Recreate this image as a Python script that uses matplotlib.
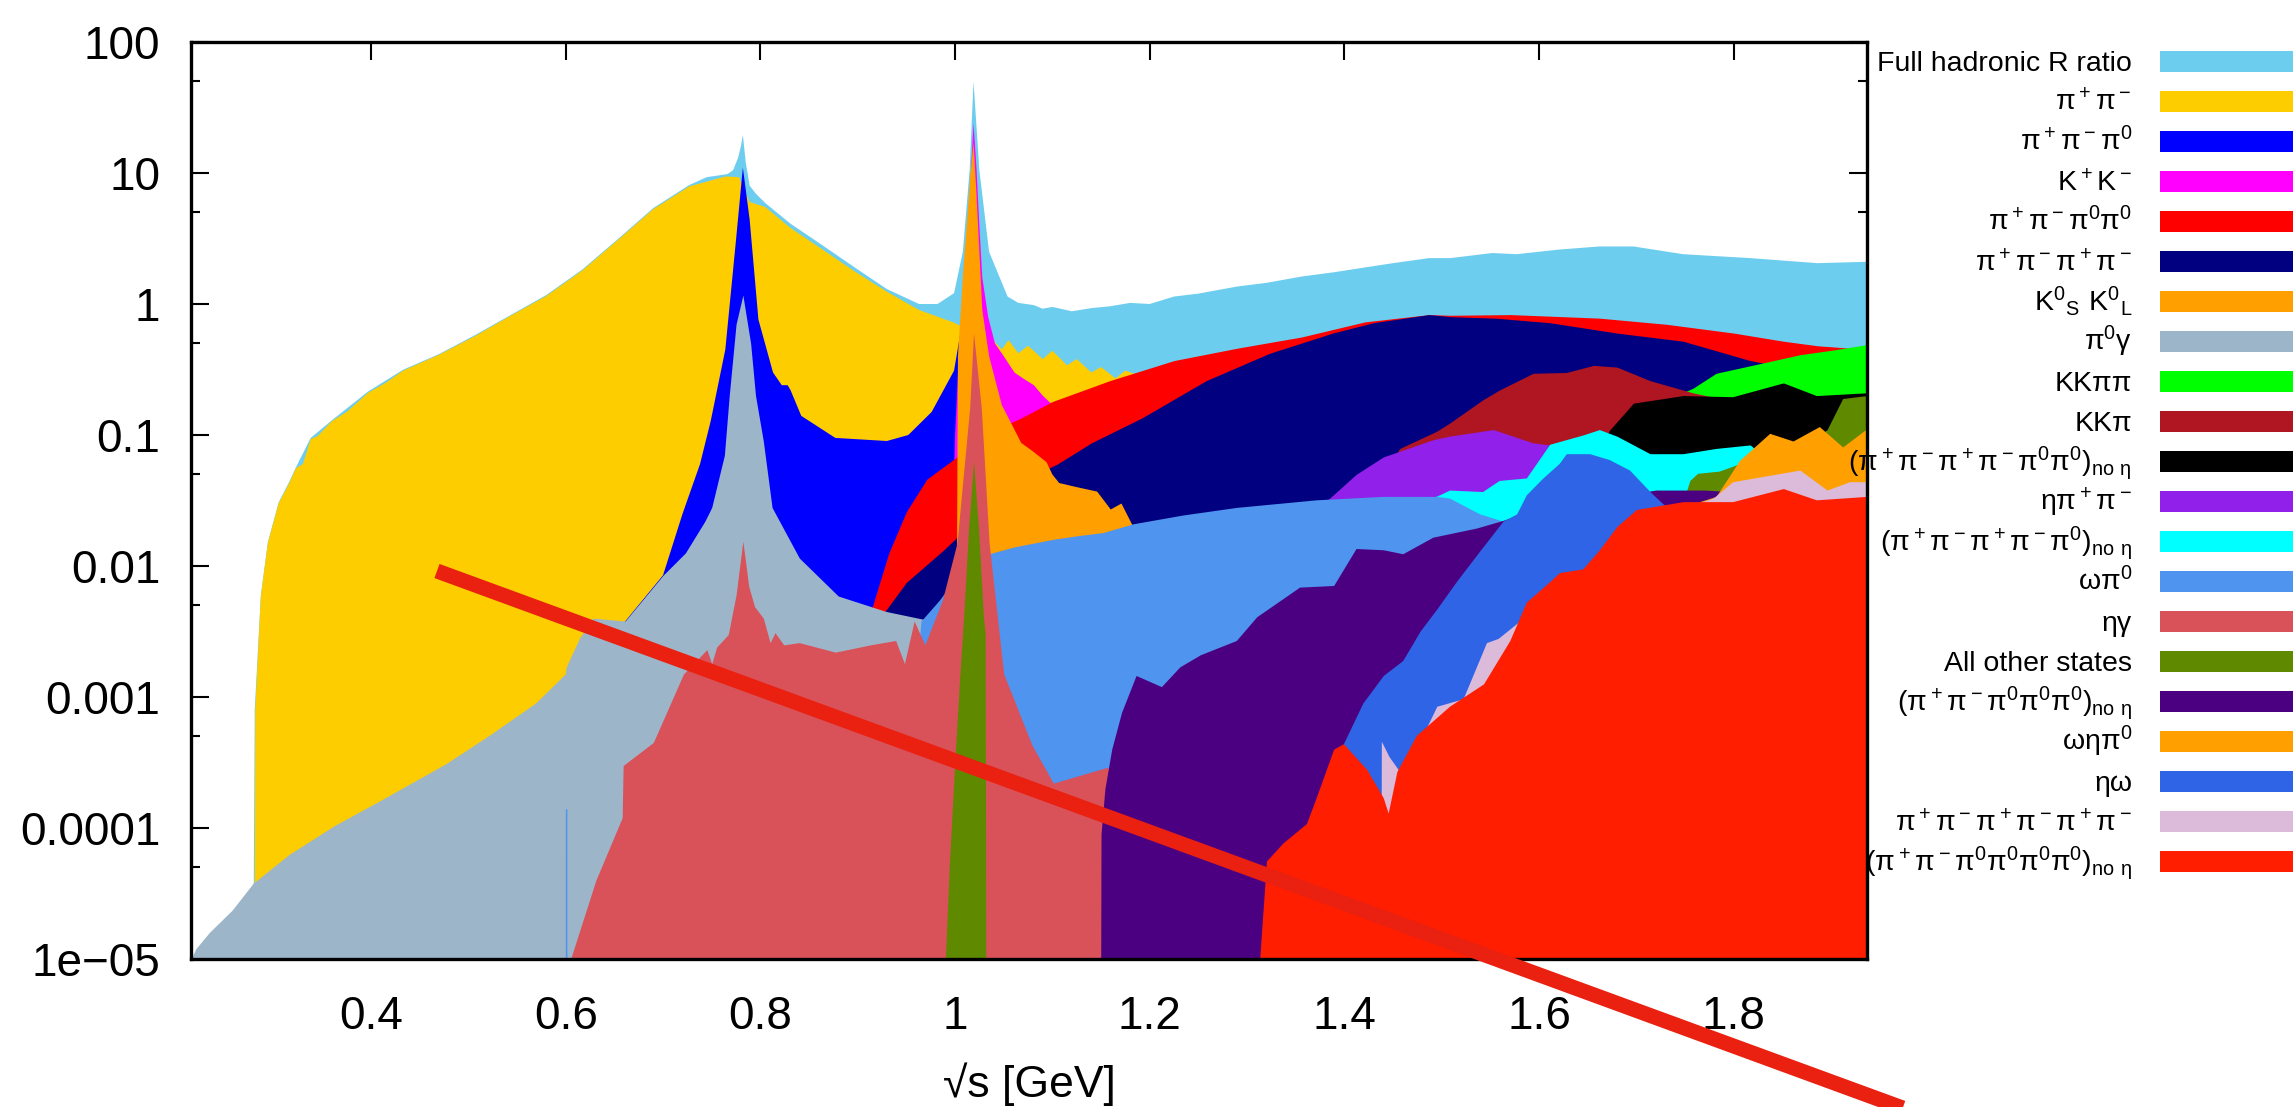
import matplotlib
matplotlib.use("Agg")
import matplotlib.pyplot as plt
from matplotlib.lines import Line2D
from matplotlib.patches import Rectangle

# ---- values: sqrt(s) [GeV] and R for each channel ----
full_x = [0.2795, 0.2805, 0.2868, 0.294, 0.305, 0.316, 0.323, 0.338, 0.360, 0.397, 0.433, 0.470,
          0.507, 0.543, 0.580, 0.617, 0.654, 0.690, 0.727, 0.745, 0.766, 0.772, 0.777, 0.780,
          0.782, 0.785, 0.789, 0.795, 0.805, 0.831, 0.864, 0.897, 0.930, 0.963, 0.982, 0.999, 1.008,
          1.015, 1.019, 1.025, 1.035, 1.054, 1.065, 1.081, 1.090, 1.100, 1.120, 1.140, 1.159, 1.180,
          1.200, 1.225, 1.250, 1.290, 1.320, 1.356, 1.390, 1.421, 1.450, 1.487, 1.509, 1.552, 1.577,
          1.620, 1.662, 1.697, 1.748, 1.817, 1.886, 1.937]
full_r = [4e-5, 8e-4, 0.006, 0.0152, 0.0305, 0.044, 0.057, 0.095, 0.13, 0.215, 0.315, 0.415,
          0.58, 0.82, 1.17, 1.83, 3.15, 5.4, 8.1, 9.3, 9.8, 10.5, 13, 16,
          19.5, 12, 8.0, 7.0, 5.9, 4.1, 2.8, 1.9, 1.3, 1.0, 1.0, 1.21, 2.5,
          10.5, 50, 10.5, 2.5, 1.14, 1.02, 0.98, 0.92, 0.95, 0.88, 0.93, 0.96, 1.02,
          1.0, 1.14, 1.2, 1.36, 1.45, 1.62, 1.75, 1.9, 2.05, 2.24, 2.24, 2.45, 2.4,
          2.6, 2.75, 2.75, 2.4, 2.24, 2.05, 2.1]

pipi_x = [0.2805, 0.281, 0.2868, 0.294, 0.305, 0.316, 0.323, 0.330, 0.338, 0.345, 0.360, 0.375,
          0.397, 0.415, 0.433, 0.470, 0.507, 0.543, 0.580, 0.617, 0.654, 0.690, 0.727, 0.764,
          0.778, 0.789, 0.805, 0.831, 0.864, 0.897, 0.930, 0.963, 0.999, 1.020, 1.040, 1.048,
          1.055, 1.065, 1.075, 1.090, 1.100, 1.115, 1.125, 1.140, 1.150, 1.165, 1.175, 1.186,
          1.250, 1.400, 1.600, 1.937]
pipi_r = [4e-5, 8e-4, 0.0059, 0.015, 0.030, 0.043, 0.056, 0.060, 0.093, 0.098, 0.128, 0.15,
          0.21, 0.25, 0.31, 0.41, 0.57, 0.81, 1.15, 1.8, 3.1, 5.3, 7.9, 9.4,
          9.3, 6.0, 5.5, 3.8, 2.6, 1.77, 1.24, 0.90, 0.72, 0.60, 0.52, 0.45,
          0.53, 0.42, 0.48, 0.38, 0.44, 0.34, 0.38, 0.30, 0.33, 0.27, 0.31, 0.29,
          0.22, 0.16, 0.11, 0.06]

ppp_x = [0.500, 0.600, 0.650, 0.700, 0.720, 0.738, 0.749, 0.764, 0.775, 0.782, 0.789,
         0.798, 0.813, 0.822, 0.828, 0.831, 0.842, 0.877, 0.930, 0.952, 0.976, 0.999, 1.009,
         1.014, 1.019, 1.024, 1.030, 1.040, 1.060, 1.100, 1.300, 1.600, 1.937]
ppp_r = [1e-5, 8e-4, 0.003, 0.0085, 0.025, 0.06, 0.128, 0.45, 3.1, 11, 4.4,
         0.76, 0.30, 0.24, 0.24, 0.22, 0.14, 0.095, 0.090, 0.100, 0.150, 0.310, 0.85,
         2.0, 5.0, 1.5, 0.3, 0.08, 0.04, 0.03, 0.02, 0.01, 0.005]

kk_x = [0.990, 1.000, 1.003, 1.008, 1.012, 1.016, 1.019, 1.022, 1.025, 1.028, 1.034, 1.041,
        1.050, 1.061, 1.070, 1.081, 1.090, 1.100, 1.120, 1.200, 1.937]
kk_r = [1e-4, 0.1, 0.3, 1.0, 3.0, 9.0, 24, 11, 4.0, 1.6, 0.8, 0.5,
        0.4, 0.30, 0.27, 0.24, 0.20, 0.17, 0.12, 0.05, 0.01]

p4n_x = [0.850, 0.900, 0.915, 0.932, 0.950, 0.971, 1.002, 1.030, 1.068, 1.100, 1.159, 1.225,
         1.290, 1.356, 1.421, 1.487, 1.509, 1.571, 1.662, 1.731, 1.800, 1.851, 1.886, 1.937]
p4n_r = [1e-5, 0.0015, 0.0049, 0.0126, 0.026, 0.046, 0.068, 0.10, 0.135, 0.18, 0.26, 0.37,
         0.46, 0.56, 0.73, 0.83, 0.82, 0.83, 0.78, 0.70, 0.60, 0.52, 0.48, 0.45]

p4c_x = [0.900, 0.920, 0.928, 0.950, 0.987, 1.000, 1.020, 1.050, 1.070, 1.105, 1.140, 1.192,
         1.258, 1.323, 1.388, 1.430, 1.487, 1.509, 1.555, 1.611, 1.680, 1.748, 1.817, 1.851, 1.937]
p4c_r = [1e-5, 0.002, 0.0045, 0.0075, 0.013, 0.016, 0.025, 0.035, 0.045, 0.060, 0.087, 0.135,
         0.26, 0.42, 0.60, 0.72, 0.83, 0.80, 0.78, 0.72, 0.60, 0.52, 0.37, 0.33, 0.28]

kskl_x = [0.998, 1.002, 1.003, 1.008, 1.012, 1.016, 1.019, 1.022, 1.025, 1.028, 1.035, 1.048,
          1.068, 1.080, 1.094, 1.100, 1.107, 1.125, 1.146, 1.160, 1.171, 1.183, 1.250, 1.500, 1.937]
kskl_r = [1e-6, 0.01, 0.4, 1.6, 4.0, 10, 17, 7, 2.5, 0.9, 0.4, 0.17,
          0.087, 0.075, 0.062, 0.05, 0.043, 0.040, 0.037, 0.027, 0.030, 0.020, 0.012, 0.006, 0.003]

pg_x = [0.205, 0.215, 0.220, 0.234, 0.257, 0.279, 0.316, 0.362, 0.408, 0.477, 0.523, 0.569,
        0.5995, 0.6005, 0.614, 0.628, 0.661, 0.700, 0.723, 0.743, 0.750, 0.763, 0.768, 0.775,
        0.782, 0.790, 0.795, 0.803, 0.812, 0.840, 0.880, 0.929, 0.969, 0.990, 1.005, 1.019,
        1.035, 1.100, 1.400, 1.937]
pg_r = [6e-6, 1e-5, 1.2e-5, 1.6e-5, 2.35e-5, 3.8e-5, 6.3e-5, 1.04e-4, 1.6e-4, 3.1e-4, 5.2e-4, 9e-4,
        0.0015, 0.0017, 0.0028, 0.004, 0.0038, 0.0085, 0.0126, 0.022, 0.028, 0.07, 0.2, 0.7,
        1.17, 0.5, 0.2, 0.09, 0.028, 0.0115, 0.0059, 0.0045, 0.0039, 0.0037, 0.004, 0.012,
        0.003, 0.0015, 5e-4, 1e-4]

kkpp_x = [1.400, 1.500, 1.600, 1.700, 1.758, 1.782, 1.834, 1.868, 1.902, 1.937]
kkpp_r = [0.005, 0.02, 0.06, 0.15, 0.227, 0.296, 0.36, 0.41, 0.445, 0.49]

kkp_x = [1.350, 1.430, 1.457, 1.495, 1.508, 1.542, 1.559, 1.594, 1.628, 1.656, 1.680, 1.714,
         1.758, 1.800, 1.937]
kkp_r = [0.005, 0.04, 0.079, 0.107, 0.123, 0.185, 0.22, 0.296, 0.30, 0.34, 0.33, 0.26,
         0.21, 0.18, 0.15]

p6a_x = [1.550, 1.620, 1.650, 1.673, 1.697, 1.748, 1.799, 1.851, 1.885, 1.937]
p6a_r = [0.005, 0.03, 0.06, 0.11, 0.175, 0.20, 0.196, 0.25, 0.20, 0.21]

etapp_x = [1.200, 1.300, 1.385, 1.412, 1.440, 1.491, 1.508, 1.553, 1.594, 1.611, 1.630, 1.700, 1.937]
etapp_r = [0.002, 0.012, 0.033, 0.05, 0.068, 0.092, 0.098, 0.11, 0.087, 0.084, 0.07, 0.04, 0.02]

p5a_x = [1.300, 1.450, 1.498, 1.508, 1.542, 1.559, 1.587, 1.611, 1.645, 1.662, 1.680, 1.714,
         1.748, 1.782, 1.817, 1.840, 1.937]
p5a_r = [0.005, 0.025, 0.035, 0.038, 0.037, 0.045, 0.047, 0.085, 0.10, 0.11, 0.098, 0.072,
         0.072, 0.079, 0.084, 0.06, 0.05]

wpi_x = [0.5995, 0.5996, 0.6012, 0.6013, 0.940, 0.955, 0.965, 0.984, 1.000, 1.019, 1.035, 1.061,
         1.101, 1.125, 1.152, 1.183, 1.234, 1.289, 1.371, 1.440, 1.495, 1.508, 1.539, 1.563,
         1.600, 1.700, 1.937]
wpi_r = [1e-7, 1.4e-4, 1.4e-4, 1e-7, 1e-5, 5e-4, 0.0038, 0.0055, 0.008, 0.02, 0.0124, 0.014,
         0.016, 0.017, 0.018, 0.021, 0.0245, 0.028, 0.032, 0.034, 0.034, 0.033, 0.025, 0.022,
         0.015, 0.008, 0.004]

etag_x = [0.604, 0.605, 0.631, 0.658, 0.659, 0.690, 0.721, 0.745, 0.750, 0.755, 0.767, 0.775,
          0.782, 0.788, 0.794, 0.803, 0.810, 0.815, 0.824, 0.840, 0.877, 0.913, 0.939, 0.948,
          0.958, 0.969, 0.987, 1.002, 1.009, 1.015, 1.019, 1.027, 1.035, 1.050, 1.079, 1.101,
          1.156, 1.200, 1.500, 1.937]
etag_r = [1e-7, 1e-5, 4e-5, 1.2e-4, 3e-4, 4.5e-4, 0.0015, 0.0023, 0.0018, 0.0024, 0.003, 0.006,
          0.0155, 0.007, 0.0049, 0.004, 0.0026, 0.0031, 0.0025, 0.0026, 0.0022, 0.0025, 0.0027, 0.0018,
          0.0038, 0.0025, 0.0055, 0.015, 0.054, 0.16, 0.6, 0.16, 0.015, 0.0015, 4.3e-4, 2.2e-4,
          2.9e-4, 2e-4, 1e-4, 5e-5]

other_x = [0.990, 0.994, 1.000, 1.005, 1.009, 1.014, 1.019, 1.024, 1.029, 1.031, 1.032, 1.550,
           1.600, 1.700, 1.740, 1.755, 1.763, 1.785, 1.830, 1.880, 1.896, 1.912, 1.937]
other_r = [1e-5, 5e-5, 3.5e-4, 0.0015, 0.0043, 0.02, 0.063, 0.02, 0.0043, 0.003, 1e-7, 1e-7,
           0.002, 0.01, 0.02, 0.045, 0.051, 0.053, 0.07, 0.09, 0.11, 0.19, 0.20]

p5n_x = [1.149, 1.150, 1.154, 1.161, 1.171, 1.186, 1.212, 1.231, 1.252, 1.289, 1.310, 1.354,
         1.389, 1.412, 1.440, 1.460, 1.491, 1.536, 1.563, 1.600, 1.700, 1.720, 1.770, 1.850, 1.937]
p5n_r = [1e-7, 9e-5, 2e-4, 4e-4, 7.6e-4, 0.00146, 0.0012, 0.0017, 0.0021, 0.0027, 0.0041, 0.0069,
         0.0071, 0.0136, 0.0133, 0.0124, 0.0166, 0.0195, 0.0223, 0.028, 0.036, 0.038, 0.038, 0.035, 0.035]

wep_x = [1.600, 1.700, 1.765, 1.782, 1.806, 1.837, 1.861, 1.888, 1.912, 1.937]
wep_r = [0.001, 0.01, 0.031, 0.034, 0.064, 0.103, 0.09, 0.116, 0.081, 0.112]

ew_x = [1.385, 1.399, 1.419, 1.440, 1.460, 1.478, 1.495, 1.515, 1.539, 1.563, 1.577, 1.587,
        1.604, 1.621, 1.628, 1.652, 1.672, 1.693, 1.714, 1.727, 1.760, 1.937]
ew_r = [1e-5, 4.4e-4, 9e-4, 0.00146, 0.0019, 0.0032, 0.0047, 0.0076, 0.013, 0.022, 0.025, 0.035,
        0.047, 0.061, 0.072, 0.072, 0.065, 0.054, 0.037, 0.03, 0.02, 0.012]

p6c_x = [1.437, 1.438, 1.446, 1.460, 1.477, 1.495, 1.522, 1.546, 1.558, 1.600, 1.700, 1.750,
         1.779, 1.799, 1.868, 1.896, 1.919, 1.937]
p6c_r = [1e-7, 4.6e-4, 3.5e-4, 2.5e-4, 4.5e-4, 8.5e-4, 9.7e-4, 0.0026, 0.0028, 0.005, 0.02, 0.028,
         0.033, 0.044, 0.054, 0.038, 0.044, 0.044]

p6n_x = [1.312, 1.313, 1.320, 1.337, 1.361, 1.371, 1.389, 1.399, 1.423, 1.440, 1.445, 1.454,
         1.474, 1.508, 1.543, 1.570, 1.587, 1.611, 1.621, 1.645, 1.662, 1.680, 1.700, 1.748,
         1.799, 1.851, 1.885, 1.937]
p6n_r = [1e-7, 1e-5, 5.6e-5, 7.7e-5, 1.08e-4, 1.7e-4, 4e-4, 4.4e-4, 2.8e-4, 1.7e-4, 1.3e-4, 2.7e-4,
         5.1e-4, 8.5e-4, 0.00126, 0.0027, 0.0053, 0.0076, 0.0089, 0.0095, 0.0133, 0.02, 0.027, 0.031,
         0.031, 0.039, 0.032, 0.034]

# drawing order = legend order, later channels painted over earlier ones
channels = [
    ("Full hadronic R ratio", "#6dcdee", full_x, full_r),
    (r"$π^+π^-$", "#fecd00", pipi_x, pipi_r),
    (r"$π^+π^-π^0$", "#0000ff", ppp_x, ppp_r),
    (r"$K^+K^-$", "#ff00ff", kk_x, kk_r),
    (r"$π^+π^-π^0π^0$", "#ff0000", p4n_x, p4n_r),
    (r"$π^+π^-π^+π^-$", "#000080", p4c_x, p4c_r),
    (r"$K^0{}_S\ K^0{}_L$", "#ffa000", kskl_x, kskl_r),
    (r"$π^0γ$", "#9db5c9", pg_x, pg_r),
    ("KKππ", "#00ff00", kkpp_x, kkpp_r),
    ("KKπ", "#b01522", kkp_x, kkp_r),
    (r"$(π^+π^-π^+π^-π^0π^0)_{no\ η}$", "#000000", p6a_x, p6a_r),
    (r"$ηπ^+π^-$", "#9120ea", etapp_x, etapp_r),
    (r"$(π^+π^-π^+π^-π^0)_{no\ η}$", "#00ffff", p5a_x, p5a_r),
    (r"$ωπ^0$", "#4f94ef", wpi_x, wpi_r),
    ("ηγ", "#d9525a", etag_x, etag_r),
    ("All other states", "#5f8a00", other_x, other_r),
    (r"$(π^+π^-π^0π^0π^0)_{no\ η}$", "#4b0082", p5n_x, p5n_r),
    (r"$ωηπ^0$", "#ffa000", wep_x, wep_r),
    ("ηω", "#2e64e5", ew_x, ew_r),
    (r"$π^+π^-π^+π^-π^+π^-$", "#dbbbd9", p6c_x, p6c_r),
    (r"$(π^+π^-π^0π^0π^0π^0)_{no\ η}$", "#ff1e00", p6n_x, p6n_r),
]

xticks = [0.4, 0.6, 0.8, 1.0, 1.2, 1.4, 1.6, 1.8]
xtick_labels = ["0.4", "0.6", "0.8", "1", "1.2", "1.4", "1.6", "1.8"]
yticks = [1e-5, 1e-4, 1e-3, 1e-2, 1e-1, 1, 10, 100]
ytick_labels = ["1e\u221205", "0.0001", "0.001", "0.01", "0.1", "1", "10", "100"]
yminor = [5e-5, 5e-4, 5e-3, 5e-2, 0.5, 5, 50]

plt.rcParams["font.family"] = ["Liberation Sans", "DejaVu Sans"]
plt.rcParams["mathtext.default"] = "regular"

W, H = 2293, 1107
fig = plt.figure(figsize=(W / 100, H / 100), dpi=100)
ax = fig.add_axes([191 / W, 148 / H, 1676 / W, 917 / H])

for label, color, xs, rs in channels:
    ax.fill_between(xs, rs, 1e-8, color=color, linewidth=0)

ax.set_yscale("log")
ax.set_xlim(0.215, 1.937)
ax.set_ylim(1e-5, 100)
ax.set_xticks(xticks, xtick_labels)
ax.set_yticks(yticks, ytick_labels)
ax.set_yticks(yminor, minor=True)
ax.yaxis.set_minor_formatter(plt.NullFormatter())
ax.set_axisbelow(True)
ax.tick_params(which="both", direction="in", top=True, right=True, width=1.5, color="black")
ax.tick_params(which="major", length=13)
ax.tick_params(which="minor", length=6.5)
ax.tick_params(axis="x", labelsize=33, pad=26)
ax.tick_params(axis="y", labelsize=33, pad=22)
for sp in ax.spines.values():
    sp.set_linewidth(2.4)
    sp.set_zorder(5)

fig.text(1029 / W, 1 - 1097 / H, "√s [GeV]", ha="center", va="baseline", fontsize=32)

# legend on the right: label right-aligned, colour bar next to it
for i, (label, color, xs, rs) in enumerate(channels):
    yc = 61.7 + 40 * i
    fig.text(2132 / W, 1 - (yc + 9) / H, label, ha="right", va="baseline", fontsize=20.5)
    fig.patches.append(Rectangle((2160 / W, 1 - (yc + 10.5) / H), 150 / W, 21 / H,
                                 transform=fig.transFigure, color=color, linewidth=0))

# red stroke drawn across the figure
fig.add_artist(Line2D([437 / W, 1960 / W], [1 - 571 / H, 1 - 1129 / H],
                      color="#ea2010", linewidth=10.8, solid_capstyle="butt"))

fig.savefig("out.png", dpi=100)
